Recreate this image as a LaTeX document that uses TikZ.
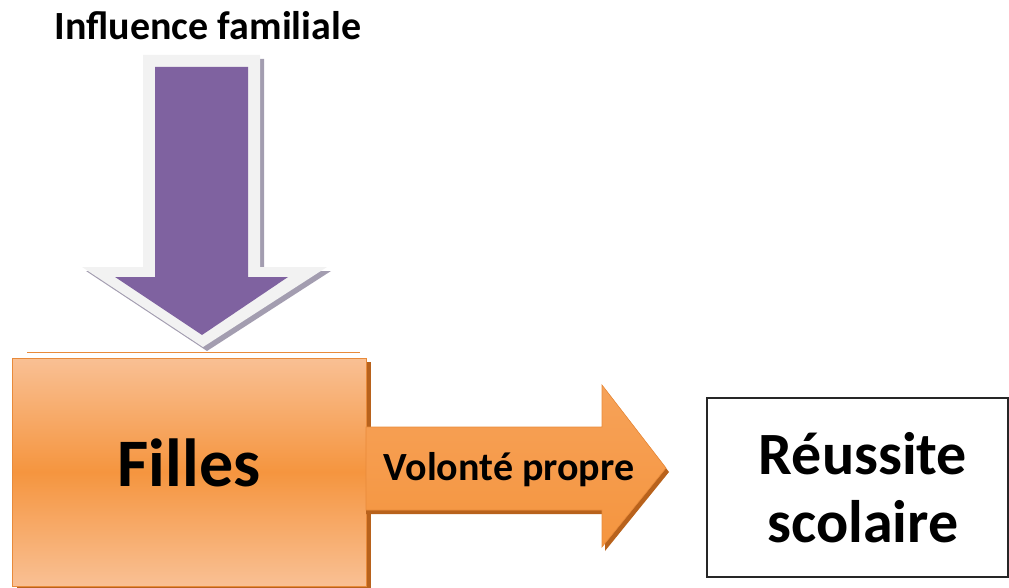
\documentclass[tikz,border=0pt]{standalone}
\usepackage{fontspec}
\setmainfont{Carlito}
\usetikzlibrary{positioning}
\definecolor{purp}{HTML}{7F62A0}
\definecolor{pshadow}{HTML}{A39DB0}
\definecolor{pborder}{HTML}{F2F2F2}
\definecolor{orlight}{HTML}{F9C094}
\definecolor{ormid}{HTML}{F5953F}
\definecolor{ordark}{HTML}{B8621C}
\definecolor{oredge}{HTML}{E88A3A}
\tikzset{
  lbl/.style={font=\bfseries, text=black, inner sep=0pt},
  orbox/.style={draw=oredge, line width=0.8pt, top color=orlight, bottom color=orlight, middle color=ormid, shading angle=0},
  resbox/.style={draw=black!85, line width=1.6pt, fill=white}
}
\begin{document}
\begin{tikzpicture}[x=1pt,y=-1pt]
\useasboundingbox (0,0) rectangle (1009,588);
% title
\node[lbl, font=\fontsize{40}{46}\selectfont\bfseries, anchor=base] (infl) at (208,40) {Influence familiale};
% purple arrow: shadow, white border, purple fill
\fill[pshadow] (147,59) -- (264,59) -- (264,271) -- (331,271) -- (207,351) -- (86,271) -- (147,271) -- cycle;
\fill[pborder] (143,55) -- (260,55) -- (260,267) -- (327,267) -- (203,347) -- (82,267) -- (143,267) -- cycle;
\fill[purp] (155,67) -- (248,67) -- (248,277) -- (288,277) -- (202,335) -- (115,277) -- (155,277) -- cycle;
% orange line
\draw[oredge, line width=1pt] (27,352) -- (360,352);
% Filles box shadow and box
\fill[ordark] (17,362) rectangle (371,588);
\path[orbox] (12,358) rectangle (366,586);
\node[lbl, font=\fontsize{68}{80}\selectfont\bfseries] (filles) at (189,463) {Filles};
% orange arrow
\fill[ordark] (366,431) -- (605,431) -- (605,389) -- (669,472) -- (605,551) -- (605,514) -- (366,514) -- cycle;
\path[draw=oredge, line width=0.6pt, top color=ormid!70!orlight, bottom color=ormid, shading angle=0]
  (366,427) -- (602,427) -- (602,385) -- (666,468) -- (602,547) -- (602,510) -- (366,510) -- cycle;
\node[lbl, font=\fontsize{40}{46}\selectfont\bfseries, anchor=base] (vol) at (509,480) {Volonté propre};
% Reussite box
\draw[resbox] (707,398) rectangle (1008,577);
\node[lbl, font=\fontsize{60}{68}\selectfont\bfseries, align=center] (res) at (863,488) {Réussite\\scolaire};
\end{tikzpicture}
\end{document}
